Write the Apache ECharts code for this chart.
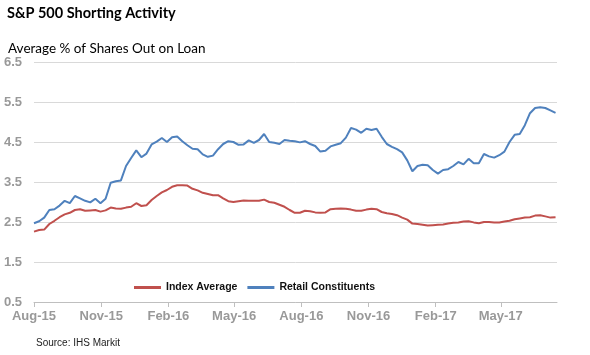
<!DOCTYPE html>
<html>
<head>
<meta charset="utf-8">
<script src="https://cdn.jsdelivr.net/npm/echarts@6/dist/echarts.min.js"></script>
<style>
html,body{margin:0;padding:0;background:#fff;}
#chart{width:590px;height:355px;}
</style>
</head>
<body>
<div id="chart"></div>
<script>
// Weekly observation dates
var weekDates = [
'2015-08-01','2015-08-08','2015-08-15','2015-08-22','2015-08-29','2015-09-05','2015-09-12','2015-09-19','2015-09-26',
'2015-10-03','2015-10-10','2015-10-17','2015-10-24','2015-10-31','2015-11-07','2015-11-14','2015-11-21','2015-11-28',
'2015-12-05','2015-12-12','2015-12-19','2015-12-26','2016-01-02','2016-01-09','2016-01-16','2016-01-23','2016-01-30',
'2016-02-06','2016-02-13','2016-02-20','2016-02-27','2016-03-05','2016-03-12','2016-03-19','2016-03-26','2016-04-02',
'2016-04-09','2016-04-16','2016-04-23','2016-04-30','2016-05-07','2016-05-14','2016-05-21','2016-05-28','2016-06-04',
'2016-06-11','2016-06-18','2016-06-25','2016-07-02','2016-07-09','2016-07-16','2016-07-23','2016-07-30','2016-08-06',
'2016-08-13','2016-08-20','2016-08-27','2016-09-03','2016-09-10','2016-09-17','2016-09-24','2016-10-01','2016-10-08',
'2016-10-15','2016-10-22','2016-10-29','2016-11-05','2016-11-12','2016-11-19','2016-11-26','2016-12-03','2016-12-10',
'2016-12-17','2016-12-24','2016-12-31','2017-01-07','2017-01-14','2017-01-21','2017-01-28','2017-02-04','2017-02-11',
'2017-02-18','2017-02-25','2017-03-04','2017-03-11','2017-03-18','2017-03-25','2017-04-01','2017-04-08','2017-04-15',
'2017-04-22','2017-04-29','2017-05-06','2017-05-13','2017-05-20','2017-05-27','2017-06-03','2017-06-10','2017-06-17',
'2017-06-24','2017-07-01','2017-07-08','2017-07-15'
];

var indexAverage = [
2.26,2.30,2.31,2.45,2.53,2.62,2.69,2.73,2.80,2.82,2.78,2.79,2.80,2.76,2.79,2.86,2.84,2.83,2.86,2.88,
2.97,2.90,2.92,3.05,3.15,3.24,3.30,3.38,3.42,3.42,3.41,3.33,3.29,3.23,3.20,3.17,3.17,3.09,3.02,3.00,
3.02,3.04,3.03,3.03,3.03,3.06,3.00,2.98,2.93,2.88,2.80,2.73,2.73,2.78,2.77,2.74,2.73,2.74,2.82,2.83,
2.84,2.83,2.81,2.78,2.78,2.81,2.83,2.82,2.75,2.72,2.70,2.67,2.61,2.56,2.46,2.45,2.43,2.41,2.42,2.43,
2.44,2.46,2.48,2.49,2.51,2.52,2.49,2.47,2.50,2.50,2.49,2.49,2.51,2.53,2.57,2.59,2.61,2.62,2.66,2.67,
2.64,2.61,2.62
];

var retailConstituents = [
2.47,2.52,2.61,2.80,2.82,2.91,3.03,2.97,3.15,3.09,3.03,2.99,3.08,2.97,3.08,3.48,3.52,3.54,3.90,4.10,
4.29,4.12,4.21,4.44,4.51,4.60,4.50,4.62,4.64,4.52,4.42,4.33,4.32,4.19,4.13,4.16,4.32,4.45,4.52,4.50,
4.43,4.44,4.54,4.48,4.55,4.70,4.50,4.48,4.45,4.55,4.53,4.52,4.49,4.52,4.45,4.40,4.26,4.28,4.39,4.43,
4.47,4.61,4.85,4.81,4.73,4.83,4.80,4.83,4.63,4.45,4.38,4.32,4.24,4.04,3.77,3.90,3.93,3.92,3.80,3.71,
3.80,3.82,3.90,4.00,3.94,4.08,3.97,3.97,4.20,4.14,4.11,4.17,4.26,4.50,4.68,4.70,4.92,5.22,5.35,5.37,
5.35,5.29,5.23
];

var tickDates = ['2015-08-01','2015-11-01','2016-02-01','2016-05-01','2016-08-01','2016-11-01','2017-02-01','2017-05-01'];
var tickLabels = ['Aug-15','Nov-15','Feb-16','May-16','Aug-16','Nov-16','Feb-17','May-17'];
var axisStart = '2015-08-01';
var axisEnd = '2017-07-17';

// convert a date string to whole days since axisStart (UTC, no DST issues)
function dayNum(d){
  var p = d.split('-'), q = axisStart.split('-');
  return Math.round((Date.UTC(+p[0], +p[1]-1, +p[2]) - Date.UTC(+q[0], +q[1]-1, +q[2])) / 86400000);
}
var tickDays = tickDates.map(dayNum);
var labelMap = {};
tickDays.forEach(function(t,i){ labelMap[t] = tickLabels[i]; });

var chart = echarts.init(document.getElementById('chart'), null, {renderer:'canvas'});
chart.setOption({
  animation: false,
  backgroundColor: '#ffffff',
  title: [
    {text: 'S&P 500 Shorting Activity', left: 2, top: 1,
     textStyle: {fontFamily: 'Lato', fontWeight: 'bold', fontSize: 14.5, color: '#000'}},
    {text: 'Average % of Shares Out on Loan', left: 3, top: 37,
     textStyle: {fontFamily: 'Lato', fontWeight: 'normal', fontSize: 13.5, color: '#000'}},
    {text: 'Source: IHS Markit', left: 31, top: 333,
     textStyle: {fontFamily: 'Liberation Sans', fontWeight: 'normal', fontSize: 10, color: '#222'}}
  ],
  legend: {
    left: 129, top: 277, itemWidth: 27, itemHeight: 3, itemGap: 10, icon: 'rect',
    textStyle: {fontFamily: 'Liberation Sans', fontWeight: 'bold', fontSize: 10.5, color: '#111'},
    data: ['Index Average', 'Retail Constituents']
  },
  grid: {left: 34, right: 33, top: 62, bottom: 53, containLabel: false},
  xAxis: {
    type: 'value',
    min: 0,
    max: dayNum(axisEnd),
    splitLine: {show: false},
    axisLine: {show: true, lineStyle: {color: '#bfbfbf', width: 1}},
    axisTick: {show: true, length: 5, lineStyle: {color: '#bfbfbf'}, customValues: tickDays},
    axisLabel: {
      customValues: tickDays,
      margin: 8,
      fontFamily: 'Liberation Sans', fontWeight: 'bold', fontSize: 13, color: '#999999',
      formatter: function(v){ return labelMap[Math.round(v)] || ''; }
    }
  },
  yAxis: {
    type: 'value', min: 0.5, max: 6.5, interval: 1,
    axisLine: {show: false}, axisTick: {show: false},
    splitLine: {show: true, lineStyle: {color: '#d9d9d9', width: 1}},
    axisLabel: {margin: 12, fontFamily: 'Liberation Sans', fontWeight: 'bold', fontSize: 13, color: '#999999',
      formatter: function(v){ return v.toFixed(1); }}
  },
  series: [
    {name: 'Index Average', type: 'line', symbol: 'none', smooth: false,
     lineStyle: {color: '#c0504d', width: 2}, itemStyle: {color: '#c0504d'},
     data: weekDates.map(function(d,i){ return [dayNum(d), indexAverage[i]]; })},
    {name: 'Retail Constituents', type: 'line', symbol: 'none', smooth: false,
     lineStyle: {color: '#4f81bd', width: 2}, itemStyle: {color: '#4f81bd'},
     data: weekDates.map(function(d,i){ return [dayNum(d), retailConstituents[i]]; })}
  ]
});
</script>
</body>
</html>
